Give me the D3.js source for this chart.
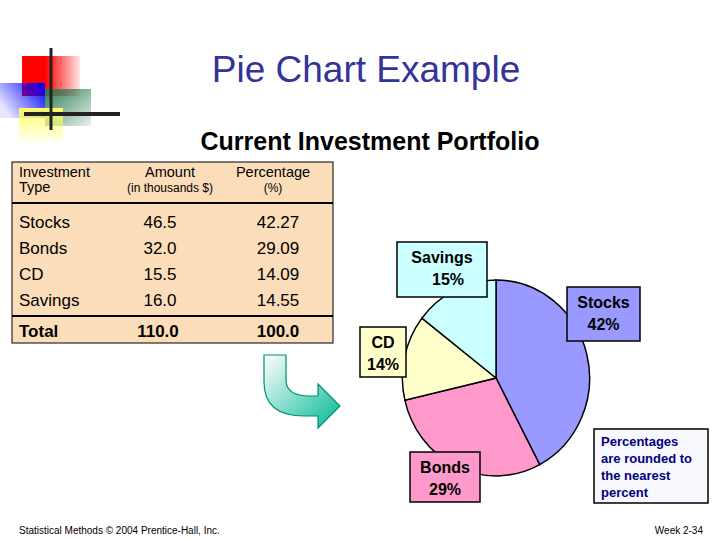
<!DOCTYPE html>
<html><head><meta charset="utf-8">
<script src="https://cdn.jsdelivr.net/npm/d3@7"></script>
<style>body{margin:0;background:#fff}svg{font-family:Arial,"Liberation Sans",sans-serif}</style>
</head><body><svg width="720" height="540"></svg>
<script>
const types = ['Stocks', 'Bonds', 'CD', 'Savings'];
const amounts = ['46.5', '32.0', '15.5', '16.0'];
const percents = [42.27, 29.09, 14.09, 14.55];
const rounded = ['42%', '29%', '14%', '15%'];
const colors = ['#9999ff', '#ff99cc', '#ffffcc', '#ccffff'];

const svg = d3.select('svg');
const defs = svg.append('defs');

// corner decoration
function grad(id, c, dir) {
  const g = defs.append('linearGradient').attr('id', id)
    .attr('x1', dir[0]).attr('y1', dir[1]).attr('x2', dir[2]).attr('y2', dir[3]);
  g.append('stop').attr('offset', '0%').attr('stop-color', c).attr('stop-opacity', 1);
  g.append('stop').attr('offset', '100%').attr('stop-color', c).attr('stop-opacity', 0.1);
}
grad('gr', '#ff0000', [0.4, 0, 1, 0]);
grad('gb', '#0000ff', [1, 0, 0, 0.6]);
grad('gg', '#2e7d50', [0, 0, 1, 1]);
grad('gy', '#ffff66', [0, 0, 0, 1]);
const deco = svg.append('g');
deco.append('rect').attr('x', 22).attr('y', 56).attr('width', 58).attr('height', 40).attr('fill', 'url(#gr)');
deco.append('rect').attr('x', 0).attr('y', 83).attr('width', 45).attr('height', 35).attr('fill', 'url(#gb)');
deco.append('rect').attr('x', 45).attr('y', 89).attr('width', 46).attr('height', 37).attr('fill', 'url(#gg)');
deco.append('rect').attr('x', 19).attr('y', 108).attr('width', 44).attr('height', 34).attr('fill', 'url(#gy)');
deco.append('line').attr('x1', 51).attr('x2', 51).attr('y1', 48).attr('y2', 130).attr('stroke', '#222').attr('stroke-width', 3);
deco.append('line').attr('x1', 24).attr('x2', 120).attr('y1', 114).attr('y2', 114).attr('stroke', '#222').attr('stroke-width', 4);

svg.append('text').attr('x', 366).attr('y', 82).attr('text-anchor', 'middle')
  .attr('font-size', 37).attr('fill', '#333399').text('Pie Chart Example');
svg.append('text').attr('x', 370).attr('y', 150).attr('text-anchor', 'middle')
  .attr('font-size', 25).attr('font-weight', 'bold').text('Current Investment Portfolio');

// table
const tb = svg.append('g');
tb.append('rect').attr('x', 12).attr('y', 162).attr('width', 321).attr('height', 181)
  .attr('fill', '#fcddb9').attr('stroke', '#000');
tb.append('line').attr('x1', 12).attr('x2', 333).attr('y1', 203).attr('y2', 203).attr('stroke', '#000').attr('stroke-width', 2);
tb.append('line').attr('x1', 12).attr('x2', 333).attr('y1', 316).attr('y2', 316).attr('stroke', '#000').attr('stroke-width', 2);
const hdr = [[19, 177, 'Investment', 14.5, 'start'], [19, 192, 'Type', 14.5, 'start'],
  [170, 177, 'Amount', 14.5, 'middle'], [170, 192, '(in thousands $)', 12, 'middle'],
  [273, 177, 'Percentage', 14.5, 'middle'], [273, 192, '(%)', 12, 'middle']];
tb.selectAll('text.h').data(hdr).join('text').attr('class', 'h')
  .attr('x', d => d[0]).attr('y', d => d[1]).attr('font-size', d => d[3])
  .attr('text-anchor', d => d[4]).text(d => d[2]);
const ry = d3.scaleBand().domain(types).range([209, 313]);
const rows = tb.selectAll('g.r').data(types).join('g').attr('class', 'r')
  .attr('transform', d => `translate(0,${ry(d) + ry.bandwidth() / 2 + 6})`).attr('font-size', 17);
rows.append('text').attr('x', 19).text(d => d);
rows.append('text').attr('x', 160).attr('text-anchor', 'middle').text((d, i) => amounts[i]);
rows.append('text').attr('x', 278).attr('text-anchor', 'middle').text((d, i) => percents[i].toFixed(2));
const tot = tb.append('g').attr('font-size', 17).attr('font-weight', 'bold');
tot.append('text').attr('x', 19).attr('y', 337).text('Total');
tot.append('text').attr('x', 158).attr('y', 337).attr('text-anchor', 'middle').text(d3.sum(amounts, Number).toFixed(1));
tot.append('text').attr('x', 278).attr('y', 337).attr('text-anchor', 'middle').text(d3.sum(percents).toFixed(1));

// arrow
const ag = defs.append('linearGradient').attr('id', 'ga').attr('x1', 0).attr('y1', 0).attr('x2', 1).attr('y2', 1);
ag.append('stop').attr('offset', '0%').attr('stop-color', '#ffffff');
ag.append('stop').attr('offset', '100%').attr('stop-color', '#00b894');
svg.append('path')
  .attr('d', 'M264,355 L286,355 L286,380 Q286,396 310,396 L318,396 L318,384 L340,406 L318,428 L318,416 L304,416 Q264,416 264,382 Z')
  .attr('fill', 'url(#ga)').attr('stroke', '#009070').attr('stroke-width', 1.2);

// pie
const pie = d3.pie().sort(null)(percents);
const arc = d3.arc().innerRadius(0).outerRadius(96);
svg.append('g').attr('transform', 'translate(496,378) scale(0.975,1.02)')
  .selectAll('path').data(pie).join('path')
  .attr('d', arc).attr('fill', (d, i) => colors[i]).attr('stroke', '#000').attr('stroke-width', 1.5);

// labels
const boxes = [[567, 287, 73, 54], [410, 452, 70, 50], [360, 327, 46, 50], [397, 242, 90, 55]];
const lg = svg.selectAll('g.lb').data(types).join('g').attr('class', 'lb');
lg.append('rect').attr('x', (d, i) => boxes[i][0]).attr('y', (d, i) => boxes[i][1])
  .attr('width', (d, i) => boxes[i][2]).attr('height', (d, i) => boxes[i][3])
  .attr('fill', (d, i) => colors[i]).attr('stroke', '#000').attr('stroke-width', 1.5);
lg.append('text').attr('x', (d, i) => boxes[i][0] + boxes[i][2] / 2).attr('y', (d, i) => boxes[i][1] + 21)
  .attr('text-anchor', 'middle').attr('font-size', 16).attr('font-weight', 'bold').text(d => d);
lg.append('text').attr('x', (d, i) => boxes[i][0] + boxes[i][2] / 2 + (i === 3 ? 6 : 0)).attr('y', (d, i) => boxes[i][1] + 43)
  .attr('text-anchor', 'middle').attr('font-size', 16).attr('font-weight', 'bold').text((d, i) => rounded[i]);

// note
svg.append('rect').attr('x', 594).attr('y', 429).attr('width', 114).attr('height', 74)
  .attr('fill', '#f8f8ff').attr('stroke', '#000').attr('stroke-width', 1.5);
svg.selectAll('text.n').data(['Percentages', 'are rounded to', 'the nearest', 'percent']).join('text')
  .attr('class', 'n').attr('x', 601).attr('y', (d, i) => 446 + i * 17)
  .attr('font-size', 13).attr('font-weight', 'bold').attr('fill', '#000080').text(d => d);

svg.append('text').attr('x', 19).attr('y', 534).attr('font-size', 10).text('Statistical Methods © 2004 Prentice-Hall, Inc.');
svg.append('text').attr('x', 703).attr('y', 534).attr('font-size', 10).attr('text-anchor', 'end').text('Week 2-34');
</script></body></html>
